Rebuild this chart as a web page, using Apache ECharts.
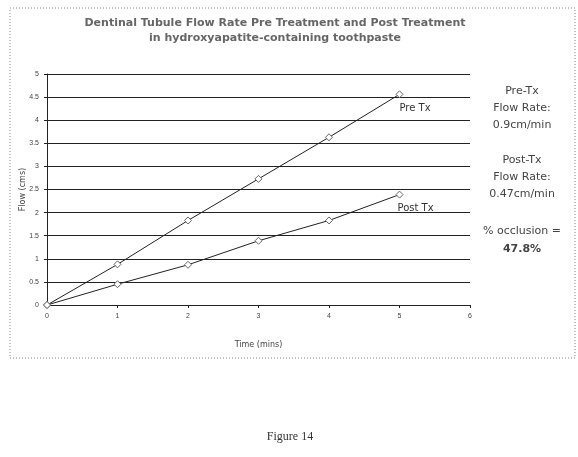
<!DOCTYPE html>
<html><head><meta charset="utf-8">
<script src="https://cdn.jsdelivr.net/npm/echarts@6/dist/echarts.min.js"></script>
<style>html,body{margin:0;padding:0;background:#fff}#c{width:578px;height:457px}</style>
</head><body><div id="c"></div>
<script>
const times = [0, 1, 2, 3, 4, 5];
const preTx = [0, 0.88, 1.83, 2.73, 3.63, 4.56];
const postTx = [0, 0.45, 0.87, 1.39, 1.83, 2.39];
const yTicks = [0, 0.5, 1, 1.5, 2, 2.5, 3, 3.5, 4, 4.5, 5];
const xTicks = [0, 1, 2, 3, 4, 5, 6];
const seriesNames = ['Pre Tx', 'Post Tx'];
const sideText = [
  ['Pre-Tx', 'Flow Rate:', '0.9cm/min'],
  ['Post-Tx', 'Flow Rate:', '0.47cm/min'],
  ['% occlusion =', '47.8%']
];

const chart = echarts.init(document.getElementById('c'), null, {renderer: 'canvas'});
function mk(vals, name, labelOffset) {
  return {
    type: 'line', name: name,
    data: vals.map((v, i) => [times[i], v]),
    symbol: 'diamond', symbolSize: 7,
    itemStyle: {color: '#fff', borderColor: '#666', borderWidth: 1},
    lineStyle: {color: '#222', width: 1},
    label: {show: false},
    endLabel: {show: true, formatter: name, color: '#333', fontSize: 10, fontFamily: 'DejaVu Sans', offset: labelOffset, align: 'left'},
    animation: false
  };
}
const g = [];
const x0 = 522;
const lines = [[91,108,125],[160,177,194],[231,249]];
sideText.forEach((grp, gi) => grp.forEach((t, ti) => {
  g.push({type: 'text', x: x0, y: lines[gi][ti], style: {text: t, textAlign: 'center', textVerticalAlign: 'middle', fill: '#444', fontSize: 11, fontWeight: (gi === 2 && ti === 1 ? 'bold' : 'normal'), fontFamily: 'DejaVu Sans'}});
}));
g.push({type: 'rect', shape: {x: 10, y: 8, width: 565, height: 350}, style: {fill: 'none', stroke: '#888', lineWidth: 1, lineDash: [1, 2]}});
g.push({type: 'text', x: 290, y: 437, style: {text: 'Figure 14', textAlign: 'center', textVerticalAlign: 'middle', fill: '#333', fontSize: 12, fontFamily: 'Liberation Serif'}});

chart.setOption({
  backgroundColor: '#fff',
  title: {
    text: 'Dentinal Tubule Flow Rate Pre Treatment and Post Treatment\nin hydroxyapatite-containing toothpaste',
    left: 270, top: 11, textAlign: 'center',
    textStyle: {fontSize: 11, fontWeight: 'bold', color: '#666', fontFamily: 'DejaVu Sans', lineHeight: 15}
  },
  grid: {left: 47, right: 108, top: 74, bottom: 152, containLabel: false},
  xAxis: {
    type: 'value', min: 0, max: 6, interval: 1,
    name: 'Time (mins)', nameLocation: 'middle', nameGap: 36,
    nameTextStyle: {fontSize: 8, color: '#444', fontFamily: 'DejaVu Sans'},
    axisLine: {show: true, lineStyle: {color: '#222'}},
    axisTick: {show: true, length: 3, lineStyle: {color: '#222'}},
    axisLabel: {fontSize: 7, color: '#444', margin: 8, formatter: v => xTicks.includes(v) ? String(v) : ''},
    splitLine: {show: false}
  },
  yAxis: {
    type: 'value', min: 0, max: 5, interval: 0.5,
    name: 'Flow (cms)', nameLocation: 'middle', nameGap: 20, nameRotate: 90,
    nameMoveOverlap: false,
    nameTextStyle: {fontSize: 8, color: '#444', fontFamily: 'DejaVu Sans'},
    axisLine: {show: true, lineStyle: {color: '#222'}},
    axisTick: {show: true, length: 3, lineStyle: {color: '#222'}},
    axisLabel: {fontSize: 7, color: '#444', margin: 8, formatter: v => yTicks.includes(v) ? String(v) : ''},
    splitLine: {show: true, lineStyle: {color: '#222', width: 1}}
  },
  series: [mk(preTx, seriesNames[0], [-8, 14]), mk(postTx, seriesNames[1], [-10, 14])],
  graphic: g,
  animation: false
});
</script></body></html>
